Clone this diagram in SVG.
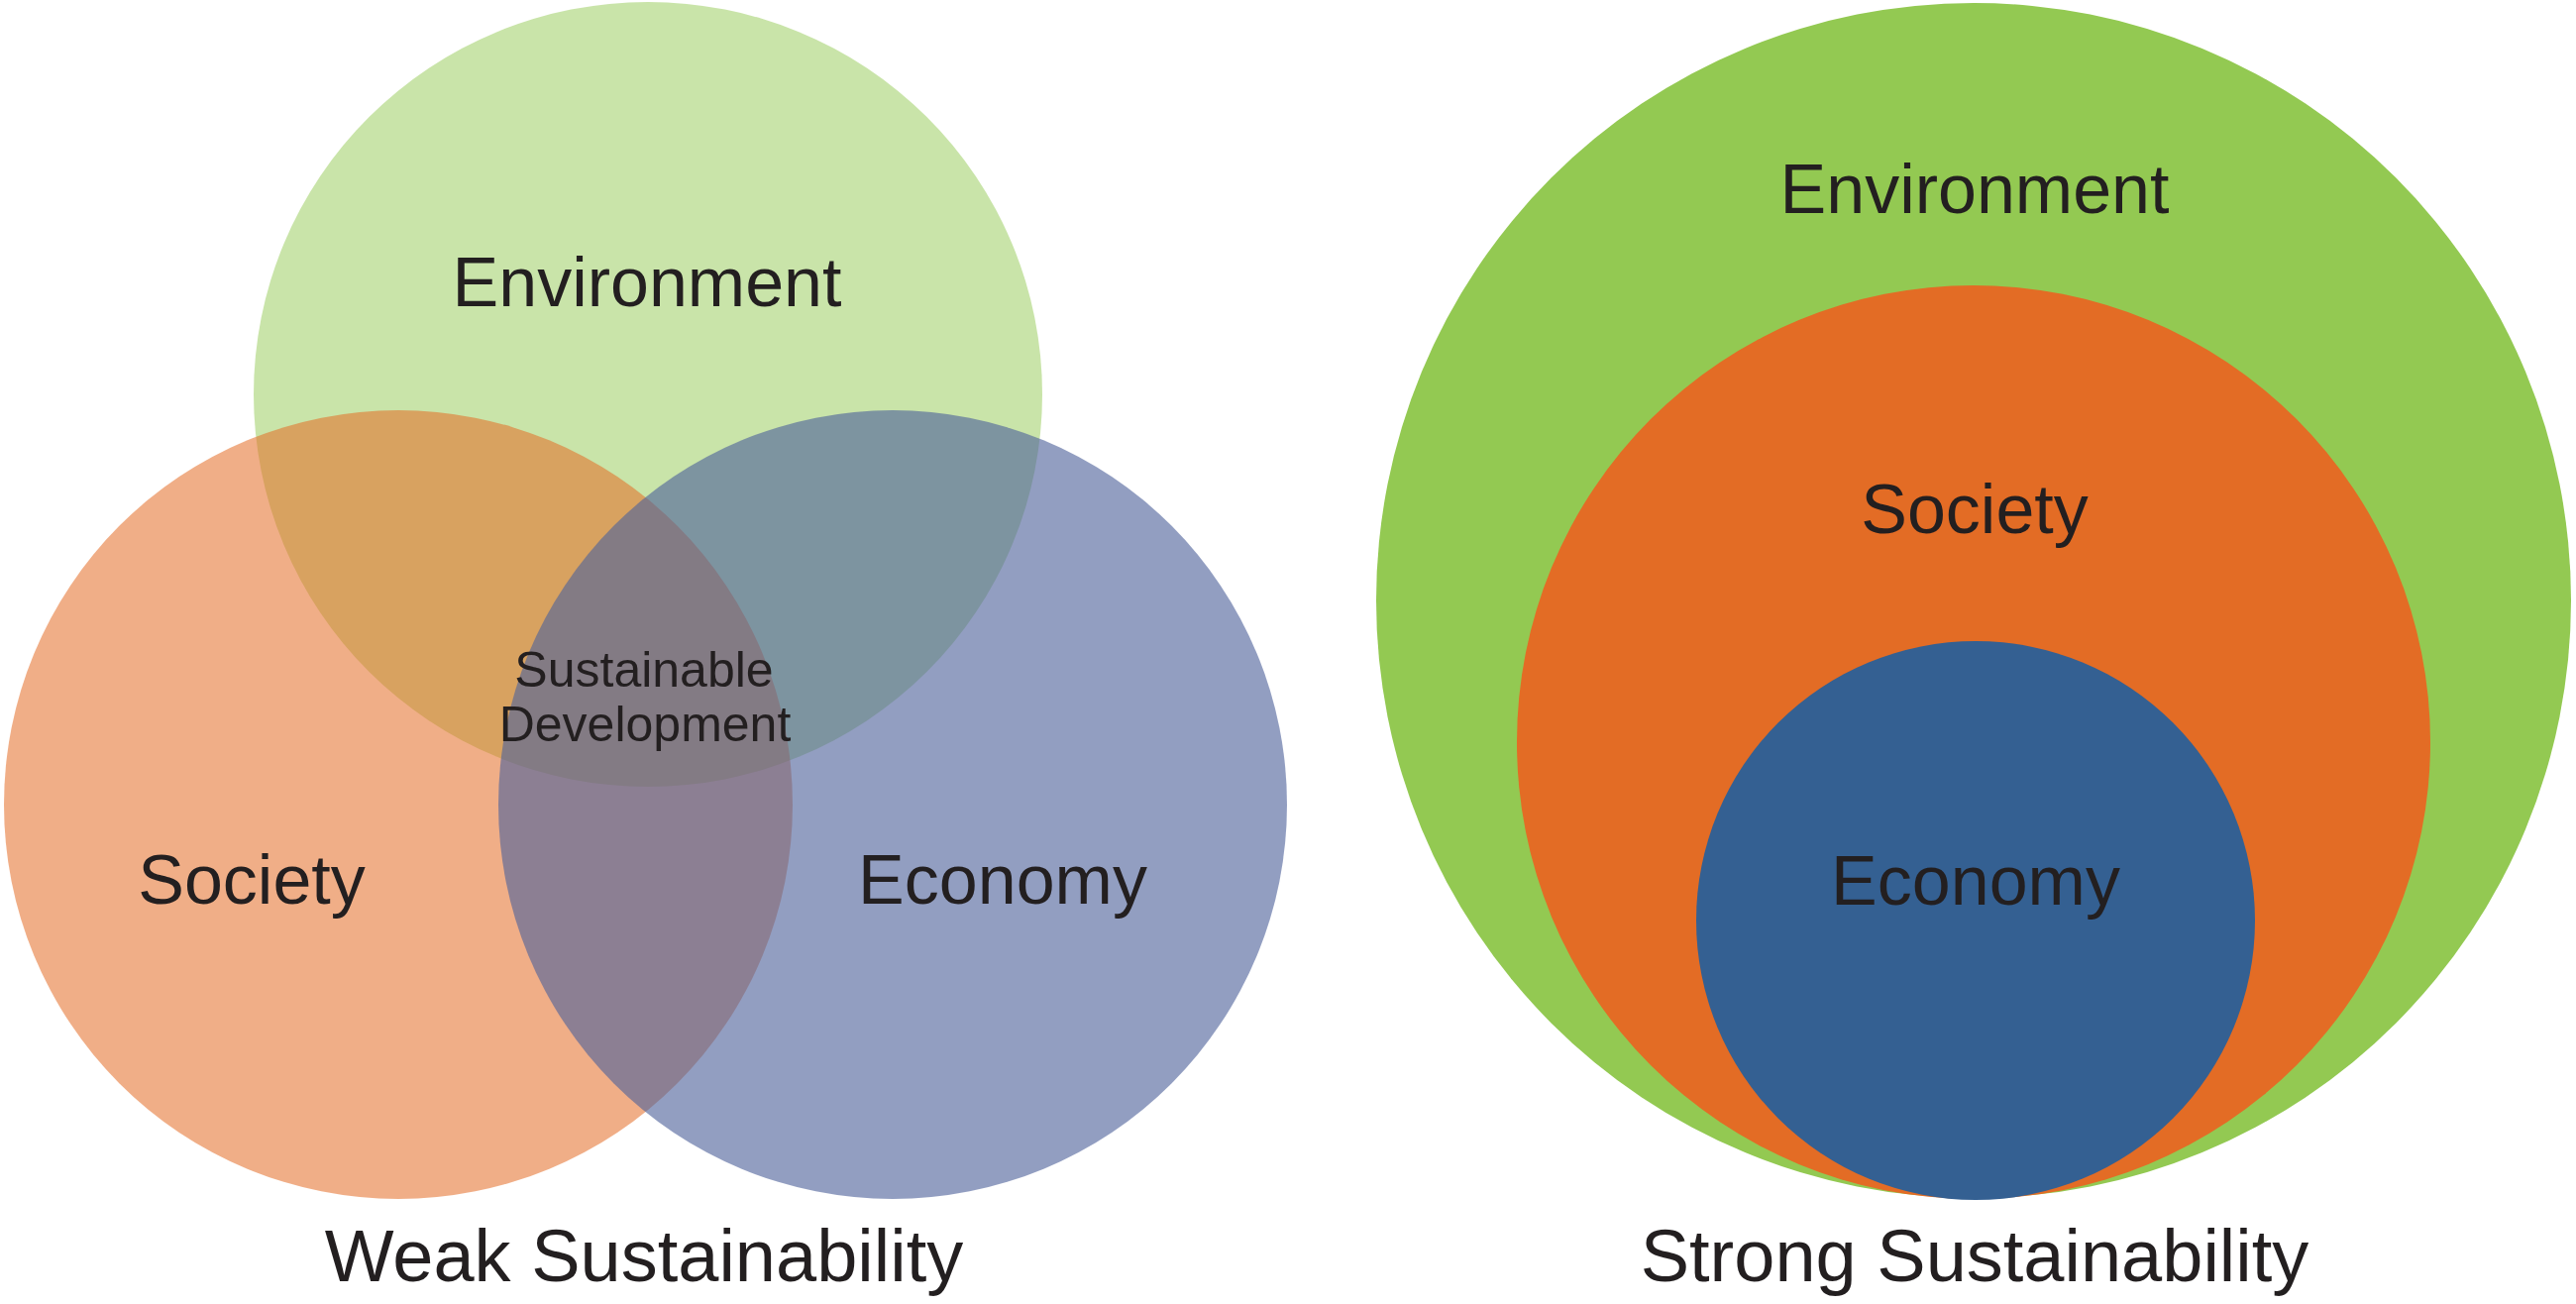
<svg xmlns="http://www.w3.org/2000/svg" width="2600" height="1316" viewBox="0 0 2600 1316">
<style>
text{font-family:"Liberation Sans",Arial,sans-serif;fill:#231F20;text-anchor:middle}
.lbl{font-size:70px}
.sd{font-size:50px}
.title{font-size:74px}
</style>
<rect width="2600" height="1316" fill="#FFFFFF"/>
<g id="weak">
<g id="w-environment"><ellipse cx="654" cy="398" rx="398" ry="396" fill="#93C954" fill-opacity="0.5"/></g>
<g id="w-society"><circle cx="402" cy="812" r="398" fill="#E46C24" fill-opacity="0.55"/></g>
<g id="w-economy"><circle cx="901" cy="812" r="398" fill="#4F629B" fill-opacity="0.62"/></g>
<text class="lbl" x="653" y="309">Environment</text>
<text class="lbl" x="254" y="912">Society</text>
<text class="lbl" x="1012" y="912">Economy</text>
<g id="w-sd"><text class="sd" x="650" y="693">Sustainable</text><text class="sd" x="651" y="748">Development</text></g>
<text class="title" x="650" y="1293">Weak Sustainability</text>
</g>
<g id="connectors"></g>
<g id="strong">
<g id="s-environment"><circle cx="1992" cy="606" r="603" fill="#93C952"/><text class="lbl" x="1993" y="215">Environment</text></g>
<g id="s-society"><circle cx="1992" cy="749" r="461" fill="#E36C25"/><text class="lbl" x="1993" y="538">Society</text></g>
<g id="s-economy"><circle cx="1994" cy="929" r="282" fill="#346092"/><text class="lbl" x="1994" y="913">Economy</text></g>
<text class="title" x="1993" y="1293">Strong Sustainability</text>
</g>
</svg>
